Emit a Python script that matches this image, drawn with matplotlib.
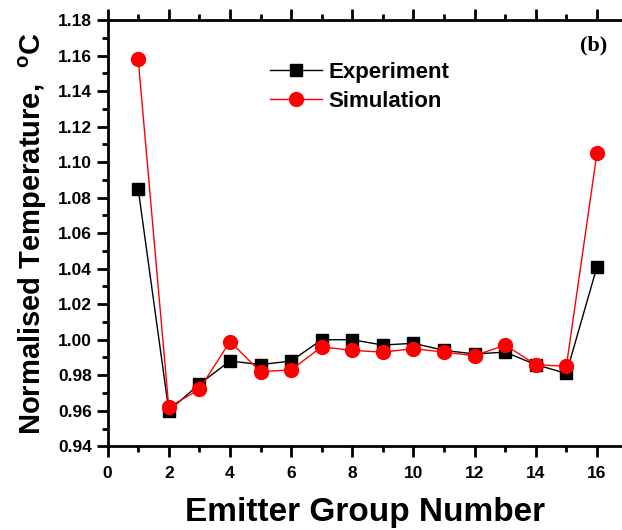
import matplotlib
matplotlib.use("Agg")
import matplotlib.pyplot as plt
from matplotlib.ticker import MultipleLocator

plt.rcParams['font.family'] = ['Liberation Sans', 'DejaVu Sans']
plt.rcParams['font.weight'] = 'bold'
plt.rcParams['mathtext.fontset'] = 'custom'
plt.rcParams['mathtext.rm'] = 'Liberation Sans:bold'
plt.rcParams['mathtext.bf'] = 'Liberation Sans:bold'

# emitter group numbers
groups = list(range(1, 17))

# normalised temperature
experiment = [1.085, 0.960, 0.975, 0.988, 0.986, 0.988, 1.000, 1.000,
              0.997, 0.998, 0.994, 0.992, 0.993, 0.986, 0.981, 1.041]
simulation = [1.158, 0.962, 0.972, 0.999, 0.982, 0.983, 0.996, 0.994,
              0.993, 0.995, 0.993, 0.991, 0.997, 0.986, 0.985, 1.105]

fig = plt.figure(figsize=(6.22, 5.30), dpi=100)
ax = fig.add_axes([0.173, 0.158, 0.827, 0.804])

ax.plot(groups, experiment, color='black', lw=1, marker='s', ms=9,
        label='Experiment')
ax.plot(groups, simulation, color='red', lw=1, marker='o', ms=10,
        label='Simulation')

ax.set_xlim(0, 16.82)
ax.set_ylim(0.94, 1.18)
ax.xaxis.set_major_locator(MultipleLocator(2))
ax.xaxis.set_minor_locator(MultipleLocator(1))
ax.yaxis.set_major_locator(MultipleLocator(0.02))
ax.yaxis.set_minor_locator(MultipleLocator(0.01))
ax.yaxis.set_major_formatter(plt.FuncFormatter(lambda v, p: f'{v:.2f}'))

for s in ['left', 'bottom', 'top']:
    ax.spines[s].set_linewidth(2)
ax.spines['right'].set_visible(False)

ax.tick_params(which='major', direction='out', length=8, width=2,
               labelsize=12.5)
ax.tick_params(which='minor', direction='out', length=4, width=2)
ax.tick_params(axis='x', which='major', pad=6)
ax.tick_params(axis='x', which='both', top=True, labeltop=False)

ax.set_xlabel('Emitter Group Number', fontsize=24, fontweight='bold',
              labelpad=12)
ax.set_ylabel('Normalised Temperature,  $^{\\rm o}$C', fontsize=21,
              fontweight='bold', labelpad=6)

ax.text(0.945, 0.965, '(b)', transform=ax.transAxes, ha='center', va='top',
        fontsize=16, fontweight='bold', family='Liberation Serif')

leg = ax.legend(loc='upper left', bbox_to_anchor=(0.298, 0.922), frameon=False,
                fontsize=16, handlelength=2.35, handletextpad=0.3,
                labelspacing=0.35, borderaxespad=0)

fig.savefig('out.png', dpi=100)
